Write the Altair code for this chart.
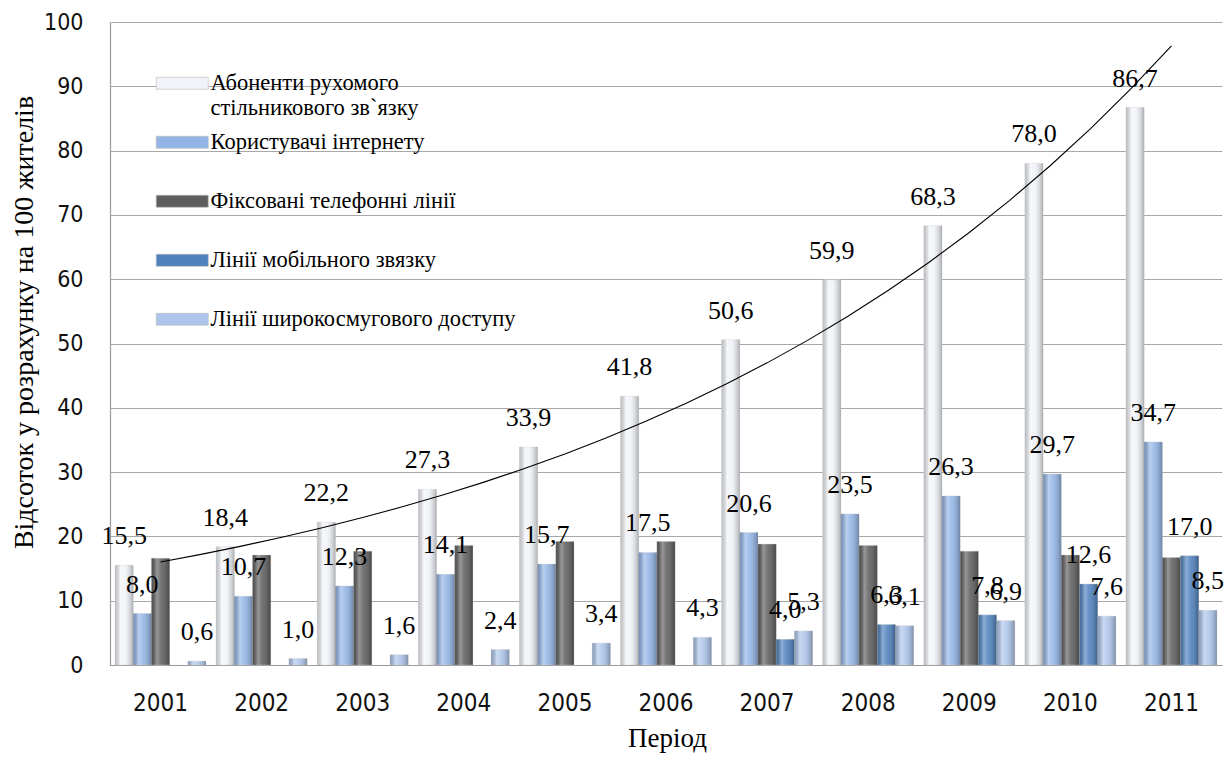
import altair as alt
import pandas as pd

years = ["2001", "2002", "2003", "2004", "2005", "2006", "2007", "2008", "2009", "2010", "2011"]
series_names = [
    "Абоненти рухомого стільникового зв`язку",
    "Користувачі інтернету",
    "Фіксовані  телефонні  лінії",
    "Лінії  мобільного звязку",
    "Лінії  широкосмугового доступу",
]
cellular = [15.5, 18.4, 22.2, 27.3, 33.9, 41.8, 50.6, 59.9, 68.3, 78.0, 86.7]
internet = [8.0, 10.7, 12.3, 14.1, 15.7, 17.5, 20.6, 23.5, 26.3, 29.7, 34.7]
fixed_lines = [16.6, 17.1, 17.7, 18.6, 19.2, 19.2, 18.8, 18.6, 17.7, 17.1, 16.7]
mobile_lines = [None, None, None, None, None, None, 4.0, 6.3, 7.8, 12.6, 17.0]
broadband = [0.6, 1.0, 1.6, 2.4, 3.4, 4.3, 5.3, 6.1, 6.9, 7.6, 8.5]
labelled_series = [series_names[0], series_names[1], series_names[3], series_names[4]]
series_colors = ["#f0f3f8", "#93b5e6", "#5e5e5e", "#4f81bd", "#adc5ea"]

all_values = [cellular, internet, fixed_lines, mobile_lines, broadband]
rows = []
for name, vals in zip(series_names, all_values):
    for yr, v in zip(years, vals):
        if v is not None:
            rows.append({"year": yr, "series": name, "value": v})
df = pd.DataFrame(rows)

trend_df = pd.DataFrame({"yr": [int(y) for y in years], "value": cellular})

SERIF = "Liberation Serif"
SANS = "Liberation Sans Narrow, DejaVu Sans Condensed, Liberation Sans"

x_enc = alt.X(
    "year:N",
    scale=alt.Scale(paddingInner=0.1, paddingOuter=0.05),
    axis=alt.Axis(
        title="Період",
        titleFont=SERIF,
        titleFontSize=27,
        titleFontWeight="normal",
        titleColor="#000000",
        titleX=557,
        titleY=81,
        titleBaseline="alphabetic",
        labelFont=SANS,
        labelFontSize=24,
        labelColor="#111111",
        labelPadding=26,
        labelAngle=0,
        ticks=False,
        tickSize=0,
        domainColor="#9a9a9a",
        domainWidth=1.2,
        grid=False,
    ),
)
xoff_enc = alt.XOffset("series:N", scale=alt.Scale(domain=series_names), sort=series_names)


def y_axis():
    return alt.Axis(
        title="Відсоток у розрахунку  на  100 жителів",
        titleFont=SERIF,
        titleFontSize=28,
        titleFontWeight="normal",
        titleColor="#000000",
        titleAngle=-90,
        titleX=-86,
        titleY=300,
        titleAlign="center",
        titleBaseline="middle",
        values=list(range(0, 101, 10)),
        labelFont=SANS,
        labelFontSize=23,
        labelColor="#111111",
        labelPadding=27,
        ticks=False,
        tickSize=0,
        domainColor="#9a9a9a",
        domainWidth=1.2,
        gridColor="#a8a8a8",
        gridWidth=1.2,
    )


y_enc = alt.Y("value:Q", scale=alt.Scale(domain=[0, 100]), axis=y_axis())

base = alt.Chart(df)

bars = base.mark_bar(stroke="#d0d0d0", strokeWidth=0.4).encode(
    x=x_enc,
    xOffset=xoff_enc,
    y=y_enc,
    color=alt.Color(
        "series:N",
        sort=series_names,
        scale=alt.Scale(domain=series_names, range=series_colors),
        legend=alt.Legend(
            title=None,
            orient="none",
            legendX=61,
            legendY=39,
            labelFont=SERIF,
            labelFontSize=22.5,
            labelColor="#000000",
            labelLimit=400,
            labelBaseline="top",
            labelOffset=17,
            symbolType="M-26,5H26V17H-26Z",
            symbolSize=4,
            symbolStrokeColor="#b8b8b8",
            symbolStrokeWidth=0.6,
            gridAlign="all",
            rowPadding=0,
            labelExpr="datum.label == 'Абоненти рухомого стільникового зв`язку' ? ['Абоненти рухомого', 'стільникового зв`язку'] : datum.label",
        ),
    ),
)

shade = base.mark_bar(
    fill=alt.Gradient(
        gradient="linear",
        x1=0, x2=1, y1=0, y2=0,
        stops=[
            alt.GradientStop(offset=0, color="rgba(0,0,0,0.20)"),
            alt.GradientStop(offset=0.3, color="rgba(255,255,255,0.35)"),
            alt.GradientStop(offset=0.55, color="rgba(255,255,255,0.12)"),
            alt.GradientStop(offset=1, color="rgba(0,0,0,0.28)"),
        ],
    )
).encode(x=x_enc, xOffset=xoff_enc, y=y_enc)

labels = base.transform_filter(
    alt.FieldOneOfPredicate(field="series", oneOf=labelled_series)
).transform_calculate(
    txt="replace(format(datum.value, '.1f'), '.', ',')"
).mark_text(
    font=SERIF, fontSize=26, color="#000000", baseline="middle", align="center", dy=-29
).encode(x=x_enc, xOffset=xoff_enc, y=y_enc, text="txt:N")

trend = alt.Chart(trend_df).transform_calculate(
    ln="log(datum.value)"
).transform_regression(
    "yr", "ln", method="poly", order=1
).transform_calculate(
    value="exp(datum.ln)"
).mark_line(color="#000000", strokeWidth=1.1).encode(
    x=alt.X("yr:Q", scale=alt.Scale(domain=[2000.5, 2011.5], nice=False, zero=False), axis=None),
    y=alt.Y("value:Q", scale=alt.Scale(domain=[0, 100]), axis=y_axis()),
)

bar_layers = alt.layer(bars, shade, labels)

chart = alt.layer(bar_layers, trend).resolve_scale(x="independent").properties(
    width=1112,
    height=643,
    autosize=alt.AutoSizeParams(type="none"),
    padding={"left": 102, "top": 14, "right": 2, "bottom": 88},
    background="#ffffff",
).configure_view(strokeWidth=0).configure_axis(
    titleFont=SERIF, titleFontWeight="normal"
).configure_legend(
    labelFont=SERIF
)

chart.save("out.html", embed_options={"renderer": "svg", "actions": False})
